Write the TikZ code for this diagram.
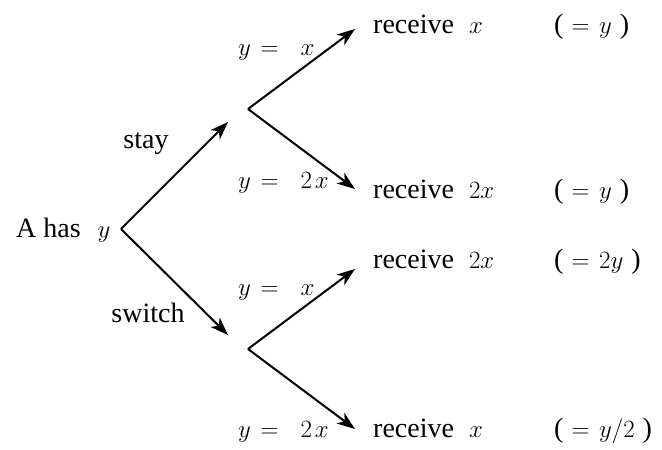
\documentclass[tikz,border=0pt]{standalone}
\usepackage{fontspec}
\setmainfont{Liberation Serif}
\usetikzlibrary{arrows.meta}
\begin{document}
\begin{tikzpicture}[x=1pt,y=-1pt,
  txt/.style={inner sep=0pt,font=\fontsize{28}{33}\selectfont},
  arr/.style={line width=2pt,-{Stealth[length=18pt,width=13pt,inset=5pt]}}]
\useasboundingbox (0,0) rectangle (662,450);
% branch points
\coordinate (root) at (121,229);
\coordinate (s1) at (228,122);
\coordinate (s2) at (228,335);
\coordinate (v1) at (248,109);
\coordinate (v2) at (248,349);
\coordinate (t1) at (355,29);
\coordinate (t2) at (355,189);
\coordinate (t3) at (355,269);
\coordinate (t4) at (355,429);
% arrows
\draw[arr] (root) -- (s1);
\draw[arr] (root) -- (s2);
\draw[arr] (v1) -- (t1);
\draw[arr] (v1) -- (t2);
\draw[arr] (v2) -- (t3);
\draw[arr] (v2) -- (t4);
% labels
\node[txt,anchor=base west] (a) at (16,237) {A has\hspace{17pt}$y$};
\node[txt,anchor=base] (stay) at (146,148) {stay};
\node[txt,anchor=base] (switch) at (148,322) {switch};
\node[txt,anchor=base west] (l1) at (238,55) {$y\mkern2mu=\mkern11mu x$};
\node[txt,anchor=base west] (l2) at (238,188) {$y\mkern2mu=\mkern11mu 2\mkern2mu x$};
\node[txt,anchor=base west] (l3) at (238,295) {$y\mkern2mu=\mkern11mu x$};
\node[txt,anchor=base west] (l4) at (238,437) {$y\mkern2mu=\mkern11mu 2\mkern2mu x$};
\node[txt,anchor=base west] (r1) at (373,33) {receive\hspace{15pt}$x$};
\node[txt,anchor=base west] (r2) at (373,198) {receive\hspace{15pt}$2x$};
\node[txt,anchor=base west] (r3) at (373,268) {receive\hspace{15pt}$2x$};
\node[txt,anchor=base west] (r4) at (373,437) {receive\hspace{15pt}$x$};
\node[txt,anchor=base west] (e1) at (554,33) {(\hspace{8pt}$=\mkern2mu y$\hspace{8pt})};
\node[txt,anchor=base west] (e2) at (554,198) {(\hspace{8pt}$=\mkern2mu y$\hspace{8pt})};
\node[txt,anchor=base west] (e3) at (554,268) {(\hspace{8pt}$=\mkern2mu 2y$\hspace{8pt})};
\node[txt,anchor=base west] (e4) at (554,437) {(\hspace{8pt}$=\mkern2mu y/2$\hspace{8pt})};
\end{tikzpicture}
\end{document}
